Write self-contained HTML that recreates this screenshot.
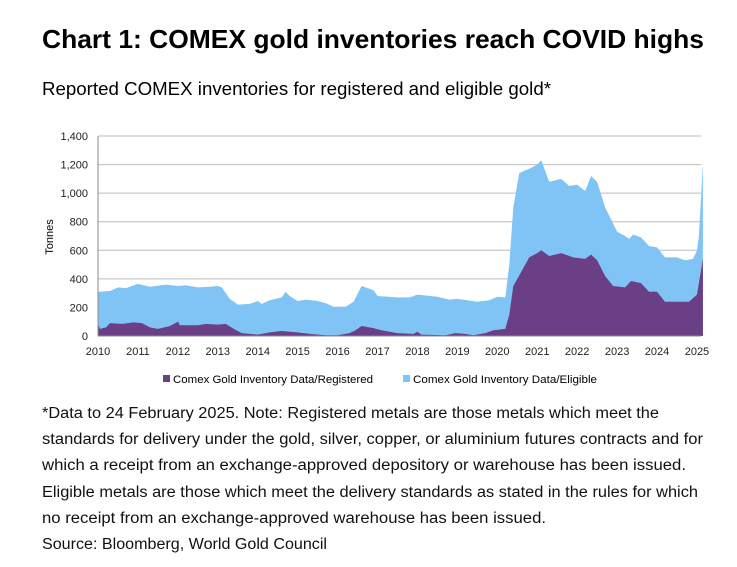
<!DOCTYPE html>
<html><head><meta charset="utf-8"><style>
body{margin:0;background:#fff;width:737px;height:562px;overflow:hidden}
text{font-family:"Liberation Sans",sans-serif}
</style></head><body>
<svg width="737" height="562" xmlns="http://www.w3.org/2000/svg">
<text x="42" y="48" font-size="26" font-weight="bold" textLength="662" lengthAdjust="spacingAndGlyphs">Chart 1: COMEX gold inventories reach COVID highs</text>
<text x="42" y="95" font-size="18" textLength="509" lengthAdjust="spacingAndGlyphs">Reported COMEX inventories for registered and eligible gold*</text>
<g id="grid" stroke="#bdbdbd" stroke-width="1"></g>
<path id="elig" fill="#80c4f6"/>
<path id="reg" fill="#6b3f86"/>
<line x1="98" y1="336" x2="701" y2="336" stroke="#888" stroke-width="1"/>
<line x1="98" y1="136" x2="98" y2="336" stroke="#888" stroke-width="1"/>
<g id="lbl" font-size="11" fill="#222"></g>
<text transform="translate(53,237) rotate(-90)" font-size="11" text-anchor="middle">Tonnes</text>
<rect x="163" y="375" width="7" height="7" fill="#6b3f86"/>
<text x="173" y="383" font-size="11" textLength="200" lengthAdjust="spacingAndGlyphs">Comex Gold Inventory Data/Registered</text>
<rect x="403" y="375" width="7" height="7" fill="#80c4f6"/>
<text x="413" y="383" font-size="11" textLength="184" lengthAdjust="spacingAndGlyphs">Comex Gold Inventory Data/Eligible</text>
<g font-size="15.5" fill="#111">
<text x="42" y="418" textLength="617" lengthAdjust="spacingAndGlyphs">*Data to 24 February 2025. Note: Registered metals are those metals which meet the</text>
<text x="42" y="444" textLength="661" lengthAdjust="spacingAndGlyphs">standards for delivery under the gold, silver, copper, or aluminium futures contracts and for</text>
<text x="42" y="470" textLength="644" lengthAdjust="spacingAndGlyphs">which a receipt from an exchange-approved depository or warehouse has been issued.</text>
<text x="42" y="497" textLength="656" lengthAdjust="spacingAndGlyphs">Eligible metals are those which meet the delivery standards as stated in the rules for which</text>
<text x="42" y="523" textLength="504" lengthAdjust="spacingAndGlyphs">no receipt from an exchange-approved warehouse has been issued.</text>
<text x="42" y="549" textLength="285" lengthAdjust="spacingAndGlyphs">Source: Bloomberg, World Gold Council</text>
</g>
</svg>
<script>
var X=function(t){return 98+(t-2010)*39.93},Y=function(v){return 336-v*200/1400};
var E=[[2010,310],[2010.3,315],[2010.5,340],[2010.7,335],[2011,365],[2011.3,345],[2011.7,360],[2012,350],[2012.2,355],[2012.5,340],[2012.8,345],[2013,350],[2013.1,340],[2013.3,260],[2013.5,220],[2013.8,225],[2014,245],[2014.1,225],[2014.3,250],[2014.6,270],[2014.7,310],[2014.8,280],[2015,245],[2015.2,255],[2015.5,245],[2015.7,230],[2015.9,205],[2016.2,205],[2016.4,240],[2016.6,350],[2016.9,320],[2017,280],[2017.5,270],[2017.8,270],[2018,290],[2018.5,275],[2018.8,255],[2019,260],[2019.5,240],[2019.8,250],[2020,275],[2020.2,270],[2020.3,500],[2020.4,900],[2020.55,1140],[2020.7,1160],[2020.8,1170],[2021,1200],[2021.1,1230],[2021.3,1080],[2021.6,1100],[2021.8,1050],[2022,1060],[2022.2,1015],[2022.35,1120],[2022.5,1080],[2022.7,900],[2023,730],[2023.2,700],[2023.3,680],[2023.4,710],[2023.6,690],[2023.8,630],[2024,620],[2024.2,550],[2024.5,550],[2024.7,530],[2024.9,540],[2025,600],[2025.05,700],[2025.15,1200]];
var R=[[2010,80],[2010.05,50],[2010.2,60],[2010.3,90],[2010.6,85],[2010.9,95],[2011.1,90],[2011.3,60],[2011.5,50],[2011.8,70],[2012,100],[2012.05,75],[2012.5,75],[2012.7,85],[2013,80],[2013.2,85],[2013.4,50],[2013.6,20],[2014,10],[2014.3,25],[2014.6,35],[2015,25],[2015.3,15],[2015.7,5],[2016,5],[2016.3,20],[2016.45,40],[2016.6,70],[2016.9,55],[2017.1,40],[2017.5,20],[2017.9,15],[2018,30],[2018.1,10],[2018.7,5],[2018.95,20],[2019.2,15],[2019.4,5],[2019.7,20],[2019.9,40],[2020.2,50],[2020.3,150],[2020.4,350],[2020.6,450],[2020.8,550],[2021,580],[2021.1,600],[2021.3,560],[2021.6,580],[2021.9,550],[2022.2,540],[2022.35,570],[2022.5,530],[2022.7,420],[2022.9,350],[2023.2,340],[2023.35,385],[2023.6,370],[2023.8,310],[2024,310],[2024.2,240],[2024.5,240],[2024.8,240],[2025,290],[2025.15,540]];
function P(a){var s="M"+X(a[0][0])+","+Y(0);a.forEach(function(p){s+="L"+X(p[0]).toFixed(1)+","+Y(p[1]).toFixed(1)});return s+"L"+X(a[a.length-1][0])+","+Y(0)+"Z"}
document.getElementById("elig").setAttribute("d",P(E));
document.getElementById("reg").setAttribute("d",P(R));
var g=document.getElementById("grid"),l=document.getElementById("lbl"),ns="http://www.w3.org/2000/svg",s="";
for(var v=200;v<=1400;v+=200){g.innerHTML+='<line x1="98" x2="701" y1="'+Y(v)+'" y2="'+Y(v)+'"/>';}
for(var v=0;v<=1400;v+=200){s+='<text x="88" y="'+(Y(v)+4)+'" text-anchor="end">'+(v>=1000?"1,"+String(v-1000).padStart(3,"0"):v)+'</text>';}
for(var yr=2010;yr<=2025;yr++){s+='<text x="'+X(yr)+'" y="355" text-anchor="middle">'+yr+'</text>';}
l.innerHTML=s;
</script>
</body></html>
